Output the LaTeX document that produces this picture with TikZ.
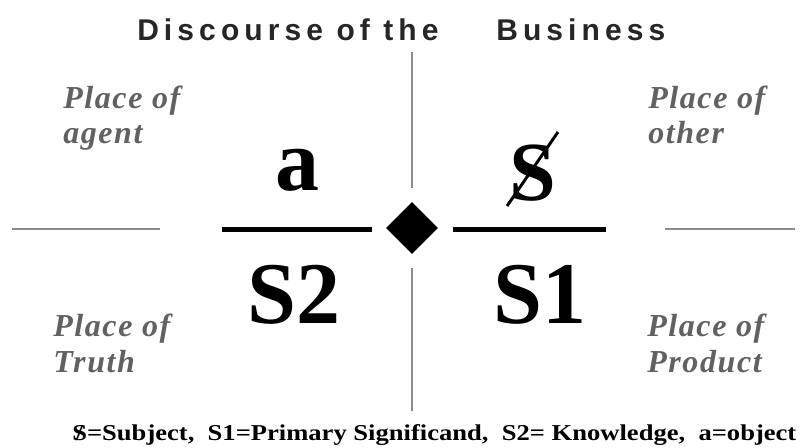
\documentclass[tikz,border=0pt]{standalone}
\usepackage{fontspec}
\usepackage{graphicx}
\usetikzlibrary{shapes.geometric}
\setmainfont{Liberation Serif}
\newfontfamily\titlefont{Liberation Sans}[LetterSpace=17]
\newfontfamily\placefont{Liberation Serif}[LetterSpace=5]
\newcommand\barS{\ooalign{S\cr\hidewidth/\hidewidth\cr}}
\tikzset{
  thinline/.style={draw=black!45, line width=0.8pt},
  barline/.style={draw=black, line width=3.75pt},
  titletext/.style={font=\titlefont\bfseries\fontsize{22.5}{26}\selectfont, text=black!85, inner sep=0pt, anchor=base west},
  placetext/.style={font=\placefont\bfseries\itshape\fontsize{24}{27}\selectfont, text=black!62, inner sep=0pt, anchor=base west},
  bigtext/.style={font=\bfseries\fontsize{66}{70}\selectfont, inner sep=0pt, anchor=base},
}
\begin{document}
\begin{tikzpicture}[x=0.75pt,y=-0.75pt]
\useasboundingbox (0,0) rectangle (804,447);
% title
\node[titletext] (t1) at (137,40) {Discourse of the};
\node[titletext] (t2) at (496,40) {Business};
% vertical line
\coordinate (vt) at (412,52);
\coordinate (vm1) at (412,188);
\coordinate (vm2) at (412,268);
\coordinate (vb) at (412,411);
\draw[thinline] (vt) -- (vm1);
\draw[thinline] (vm2) -- (vb);
% thin side lines
\coordinate (ll1) at (12,229);
\coordinate (ll2) at (160,229);
\coordinate (rl1) at (665,229);
\coordinate (rl2) at (795,229);
\draw[thinline] (ll1) -- (ll2);
\draw[thinline] (rl1) -- (rl2);
% bars
\coordinate (bl1) at (222,229);
\coordinate (bl2) at (372,229);
\coordinate (br1) at (453,229);
\coordinate (br2) at (606,229);
\draw[barline] (bl1) -- (bl2);
\draw[barline] (br1) -- (br2);
% diamond
\node[diamond, fill=black, inner sep=0pt, minimum width=39pt, minimum height=39pt] (dia) at (412,228) {};
% big letters
\node[bigtext] (a) at (297,190) {a};
\node[bigtext] (S2) at (294,323) {S2};
\node[bigtext] (S1) at (540,323) {S1};
\node[bigtext, font=\bfseries\fontsize{63}{66}\selectfont] (S) at (533,200) {S};
\coordinate (sl1) at (507,206);
\coordinate (sl2) at (558,132);
\draw[line width=2.2pt] (sl1) -- (sl2);
% places
\node[placetext] (ag1) at (63,108) {Place of};
\node[placetext] (ag2) at (63,143) {agent};
\node[placetext] (tr1) at (53,336) {Place of};
\node[placetext] (tr2) at (53,372) {Truth};
\node[placetext] (ot1) at (648,108) {Place of};
\node[placetext] (ot2) at (648,143) {other};
\node[placetext] (pr1) at (647,336) {Place of};
\node[placetext] (pr2) at (647,372) {Product};
% caption
\node[anchor=base west, inner sep=0pt] (cap) at (72,440) {\resizebox{543pt}{\height}{\bfseries\fontsize{17}{19}\selectfont \barS=Subject,~ S1=Primary Significand,~ S2= Knowledge,~ a=object}};
\end{tikzpicture}
\end{document}
